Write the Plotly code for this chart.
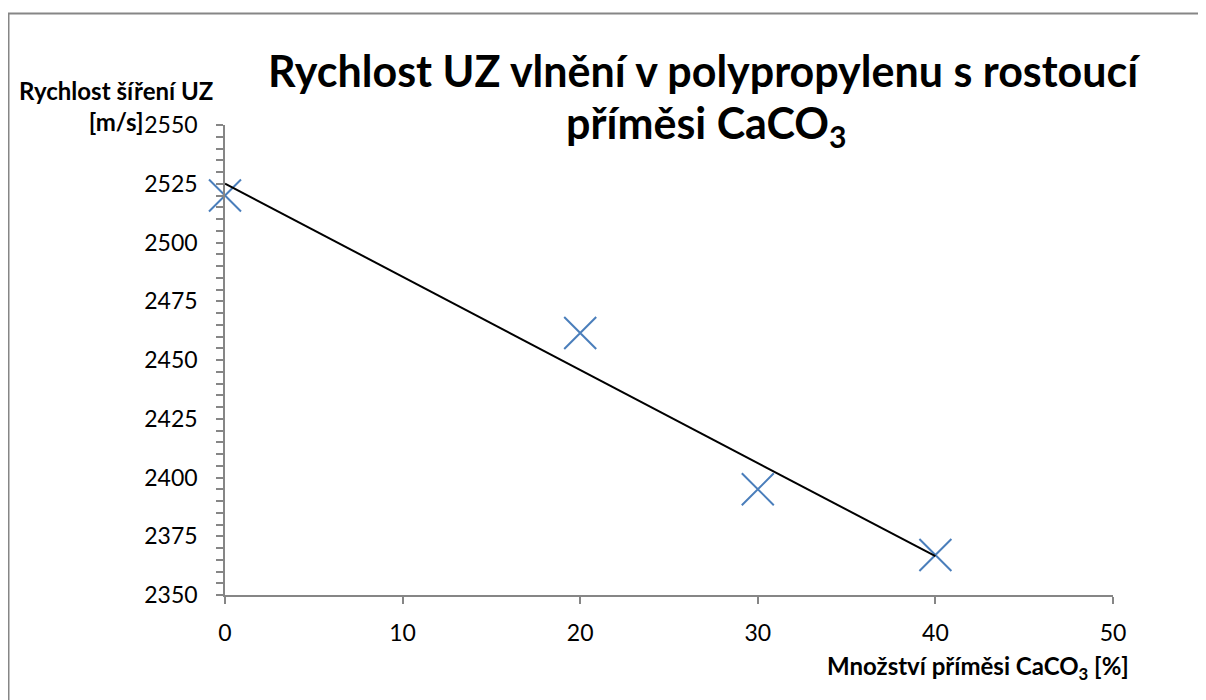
import numpy as np
import plotly.graph_objects as go

# Data
admixture_pct = [0, 20, 30, 40]
speed_ms = [2520, 2461.5, 2395, 2367]

x_ticks = [0, 10, 20, 30, 40, 50]
y_ticks = [2350, 2375, 2400, 2425, 2450, 2475, 2500, 2525, 2550]

# Linear trendline (least squares), as in the source chart
coef = np.polyfit(admixture_pct, speed_ms, 1)
trend_x = [min(admixture_pct), max(admixture_pct)]
trend_y = list(np.polyval(coef, trend_x))

OFF = 8  # page body margin
W, H = 1206 - OFF, 700 - OFF
# desired screen positions of plot area: x 225..1113, y 125..595
L, T = 225 - OFF, 125 - OFF
R = W - (1113 - OFF)
B = H - (595 - OFF)
PW, PH = W - L - R, H - T - B


def px(xs):
    return (xs - OFF - L) / PW


def py(ys):
    return (H - B - (ys - OFF)) / PH


FONT = "Lato"
AXC = "#868686"

fig = go.Figure()
fig.add_trace(go.Scatter(
    x=admixture_pct, y=speed_ms, mode="markers",
    marker=dict(symbol="x-thin-open", size=32, color="#4A7EBB",
                line=dict(color="#4A7EBB", width=2)),
    cliponaxis=False, showlegend=False, hoverinfo="x+y"))
fig.add_trace(go.Scatter(
    x=trend_x, y=trend_y, mode="lines",
    line=dict(color="black", width=2),
    cliponaxis=False, showlegend=False, hoverinfo="skip"))

fig.update_layout(
    width=W, height=H,
    margin=dict(l=L, r=R, t=T, b=B),
    paper_bgcolor="white", plot_bgcolor="white",
    font=dict(family=FONT, color="black"),
    showlegend=False,
)
fig.update_xaxes(
    range=[0, 50], tickvals=x_ticks, ticktext=[str(v) for v in x_ticks],
    showline=True, linecolor=AXC, linewidth=1.5,
    ticks="outside", ticklen=7, tickcolor=AXC, tickwidth=1.5,
    ticklabelstandoff=10,
    showgrid=False, zeroline=False,
    tickfont=dict(family=FONT, size=23, color="black"),
)
fig.update_yaxes(
    range=[2350, 2550], tickvals=y_ticks, ticktext=[str(v) for v in y_ticks],
    showline=True, linecolor=AXC, linewidth=1.5,
    ticks="outside", ticklen=7, tickcolor=AXC, tickwidth=1.5,
    ticklabelstandoff=14,
    minor=dict(dtick=5, ticks="outside", ticklen=7, tickcolor=AXC, tickwidth=1.5, showgrid=False),
    showgrid=False, zeroline=False,
    tickfont=dict(family=FONT, size=23, color="black"),
)

annotations = [
    dict(text="<b>Rychlost UZ vlnění v polypropylenu s rostoucí</b>",
         x=px(704), y=py(70), xref="paper", yref="paper",
         xanchor="center", yanchor="middle", showarrow=False,
         font=dict(family=FONT, size=43, color="black")),
    dict(text="<b>příměsi CaCO<sub>3</sub></b>",
         x=px(706), y=py(126), xref="paper", yref="paper",
         xanchor="center", yanchor="middle", showarrow=False,
         font=dict(family=FONT, size=43, color="black")),
    dict(text="<b>Rychlost šíření UZ<br>[m/s]</b>",
         x=px(116), y=py(106), xref="paper", yref="paper",
         xanchor="center", yanchor="middle", align="center", showarrow=False,
         font=dict(family=FONT, size=24, color="black")),
    dict(text="<b>Množství příměsi CaCO<sub>3</sub> [%]</b>",
         x=px(978), y=py(667), xref="paper", yref="paper",
         xanchor="center", yanchor="middle", showarrow=False,
         font=dict(family=FONT, size=24, color="black")),
]
fig.update_layout(annotations=annotations)

# Chart-area border (partially cropped on right/bottom in the reference)
fig.add_shape(type="rect", xref="paper", yref="paper",
              x0=px(8.5), y0=py(760), x1=px(1260), y1=py(13.5),
              line=dict(color="#868686", width=2), fillcolor="rgba(0,0,0,0)",
              layer="below")

fig.write_html("out.html")
